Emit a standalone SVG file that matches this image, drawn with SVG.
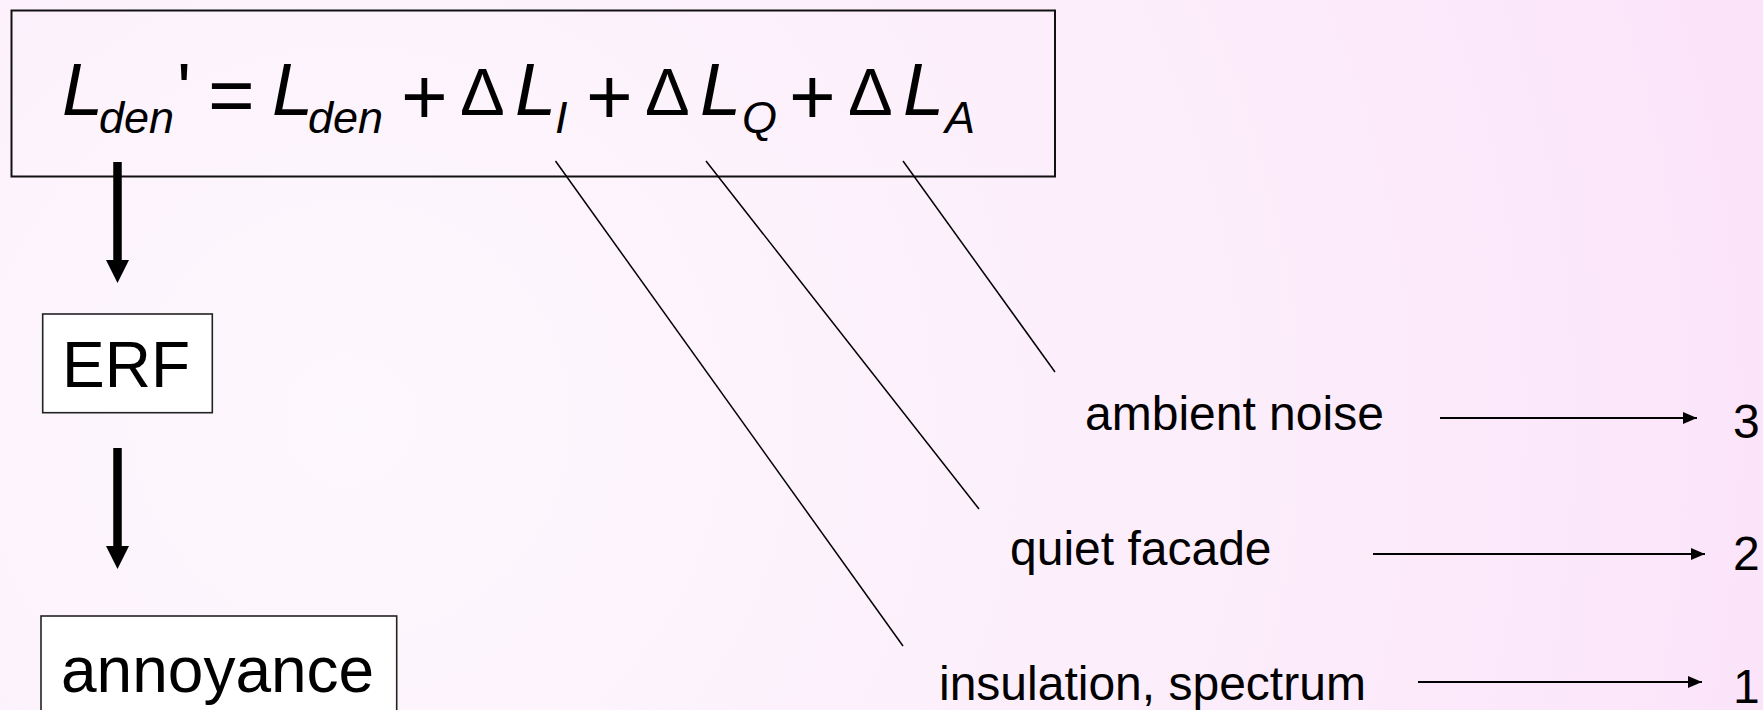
<svg xmlns="http://www.w3.org/2000/svg" width="1763" height="710" viewBox="0 0 1763 710">
<defs>
<radialGradient id="bg" cx="350" cy="420" r="1500" gradientUnits="userSpaceOnUse">
<stop offset="0" stop-color="#fdf8fd"/>
<stop offset="0.6" stop-color="#fcedfb"/>
<stop offset="1" stop-color="#fbe3fa"/>
</radialGradient>
<marker id="ah" markerUnits="userSpaceOnUse" markerWidth="14" markerHeight="12" refX="14" refY="6" orient="auto">
<path d="M0,0 L14,6 L0,12 z" fill="#000"/>
</marker>
<style>
.t{font-family:"Liberation Sans",Arial,sans-serif;fill:#000}
.it{font-style:italic}
.main{font-size:74px}
.sub{font-size:45px}
.op{font-size:80px}
.pr{font-size:74px}
.dl{font-size:67px}
.lbl{font-size:48px}
.box{fill:#fff;stroke:#222;stroke-width:1.6}
.thin{stroke:#000;stroke-width:1.5;fill:none}
.rarr{stroke:#000;stroke-width:2;fill:none;marker-end:url(#ah)}
.thick{stroke:#000;stroke-width:8.5}
</style>
</defs>
<rect x="0" y="0" width="1763" height="710" fill="url(#bg)"/>

<g id="formula">
<rect x="11.5" y="10.5" width="1043.5" height="166" fill="none" stroke="#111" stroke-width="2"/>
<text class="t it main" x="62" y="115">L</text>
<text class="t it sub" x="99" y="133">den</text>
<text class="t pr" x="177" y="115">'</text>
<text class="t op" x="208" y="122">=</text>
<text class="t it main" x="272" y="115">L</text>
<text class="t it sub" x="308" y="133">den</text>
<text class="t op" x="401" y="124">+</text>
<text class="t dl" x="460" y="115">Δ</text>
<text class="t it main" x="515" y="115">L</text>
<text class="t it sub" x="555" y="133">I</text>
<text class="t op" x="586" y="124">+</text>
<text class="t dl" x="645" y="115">Δ</text>
<text class="t it main" x="700" y="115">L</text>
<text class="t it sub" x="742" y="133">Q</text>
<text class="t op" x="789" y="124">+</text>
<text class="t dl" x="848" y="115">Δ</text>
<text class="t it main" x="903" y="115">L</text>
<text class="t it sub" x="945" y="133">A</text>
</g>

<g id="erf">
<rect class="box" x="42.7" y="314" width="169.6" height="98.7"/>
<text class="t" x="62" y="387" font-size="64">ERF</text>
</g>

<g id="annoyance">
<rect class="box" x="41" y="616" width="355.7" height="110"/>
<text class="t" x="61" y="692" font-size="64">annoyance</text>
</g>

<g id="label-ambient">
<text class="t lbl" x="1085" y="430">ambient noise</text>
</g>
<g id="label-quiet">
<text class="t lbl" x="1010" y="565">quiet facade</text>
</g>
<g id="label-insulation">
<text class="t lbl" x="939" y="700">insulation, spectrum</text>
</g>
<g id="num-3"><text class="t lbl" x="1733" y="438">3</text></g>
<g id="num-2"><text class="t lbl" x="1733" y="570">2</text></g>
<g id="num-1"><text class="t lbl" x="1733" y="703">1</text></g>

<g id="connectors">
<line class="thick" x1="117.5" y1="162" x2="117.5" y2="262"/>
<polygon points="106,260 129,260 117.5,283" fill="#000"/>
<line class="thick" x1="117.5" y1="448" x2="117.5" y2="548"/>
<polygon points="106,546 129,546 117.5,569" fill="#000"/>
<line class="thin" x1="555.5" y1="161" x2="903" y2="646"/>
<line class="thin" x1="706" y1="161" x2="979" y2="509"/>
<line class="thin" x1="903" y1="161" x2="1055" y2="372"/>
<line class="rarr" x1="1440" y1="418" x2="1697" y2="418"/>
<line class="rarr" x1="1373" y1="554" x2="1705" y2="554"/>
<line class="rarr" x1="1418" y1="682" x2="1702" y2="682"/>
</g>
</svg>
